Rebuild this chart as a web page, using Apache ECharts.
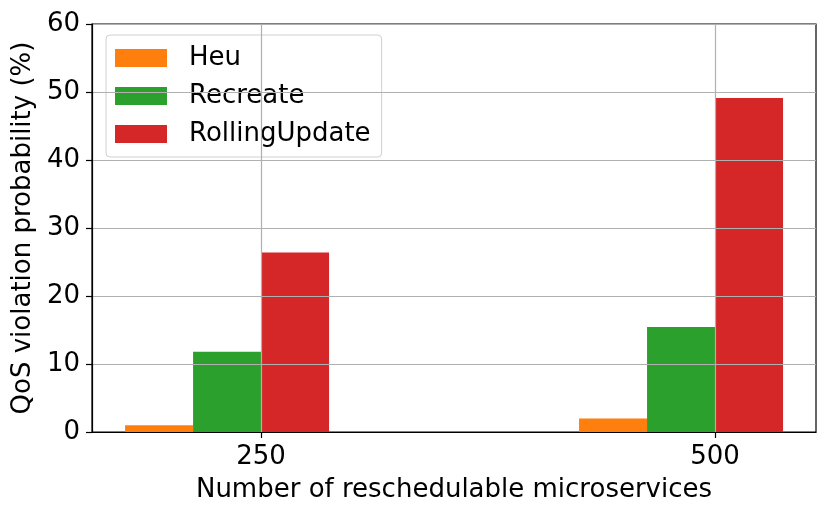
<!DOCTYPE html>
<html>
<head>
<meta charset="utf-8">
<script src="https://cdn.jsdelivr.net/npm/echarts@6/dist/echarts.min.js"></script>
<style>
html,body{margin:0;padding:0;background:#fff;}
#chart{width:830px;height:517px;}
</style>
</head>
<body>
<div id="chart"></div>
<script>
const categories = [250, 500];
const heu = [1.0, 2.0];
const recreate = [11.8, 15.45];
const rollingUpdate = [26.4, 49.1];
const seriesNames = ['Heu', 'Recreate', 'RollingUpdate'];
const colors = ['#ff7f0e', '#2ca02c', '#d62728'];
const yTicks = [0, 10, 20, 30, 40, 50, 60];

const FONT = 'DejaVu Sans';
const FS = 26;
const chart = echarts.init(document.getElementById('chart'));
function pairs(vals) { return categories.map((c, i) => [c, vals[i]]); }
const allVals = [heu, recreate, rollingUpdate];

const series = seriesNames.map((n, i) => ({
  name: n,
  type: 'bar',
  data: pairs(allVals[i]),
  barWidth: 68,
  barGap: '0%',
  itemStyle: { color: colors[i] },
  z: 2
}));
// empty placeholder slot (matplotlib grouped layout leaves a 4th slot)
series.push({ name: '_pad', type: 'bar', data: pairs([0, 0]), barWidth: 68, barGap: '0%', itemStyle: { color: 'rgba(0,0,0,0)' }, silent: true });

chart.setOption({
  animation: false,
  backgroundColor: '#fff',
  textStyle: { fontFamily: FONT },
  grid: { left: 92, right: 14, top: 24, bottom: 85, show: true, borderColor: '#000', borderWidth: 1.2, containLabel: false },
  legend: {
    data: seriesNames,
    orient: 'vertical',
    left: 106, top: 35,
    itemWidth: 52, itemHeight: 18, itemGap: 12,
    padding: [10, 11, 10, 9],
    backgroundColor: 'rgba(255,255,255,0.8)',
    borderColor: '#d0d0d0', borderWidth: 1, borderRadius: 4,
    icon: 'rect',
    textStyle: { fontFamily: FONT, fontSize: FS, color: '#000', padding: [0, 0, 0, 17] }
  },
  xAxis: {
    type: 'value',
    min: 156.9, max: 555.6,
    z: 10,
    name: 'Number of reschedulable microservices',
    nameLocation: 'middle', nameGap: 45,
    nameTextStyle: { fontFamily: FONT, fontSize: FS, color: '#000' },
    axisLine: { show: true, lineStyle: { color: '#000', width: 1.2 } },
    axisTick: { show: true, inside: false, length: 6, customValues: categories, lineStyle: { color: '#000', width: 1.2 } },
    axisLabel: { customValues: categories, fontFamily: FONT, fontSize: FS, color: '#000', margin: 12 },
    splitLine: { show: true, lineStyle: { color: '#b0b0b0', width: 1.2 } }
  },
  yAxis: {
    type: 'value',
    min: 0, max: 60, interval: 10,
    z: 10,
    name: 'QoS violation probability (%)',
    nameLocation: 'middle', nameGap: 54,
    nameTextStyle: { fontFamily: FONT, fontSize: FS, color: '#000' },
    axisLine: { show: true, lineStyle: { color: '#000', width: 1.2 } },
    axisTick: { show: true, inside: false, length: 6, lineStyle: { color: '#000', width: 1.2 } },
    axisLabel: { fontFamily: FONT, fontSize: FS, color: '#000', margin: 12 },
    splitLine: { show: true, lineStyle: { color: '#b0b0b0', width: 1.2 } }
  },
  series: series
});
</script>
</body>
</html>
